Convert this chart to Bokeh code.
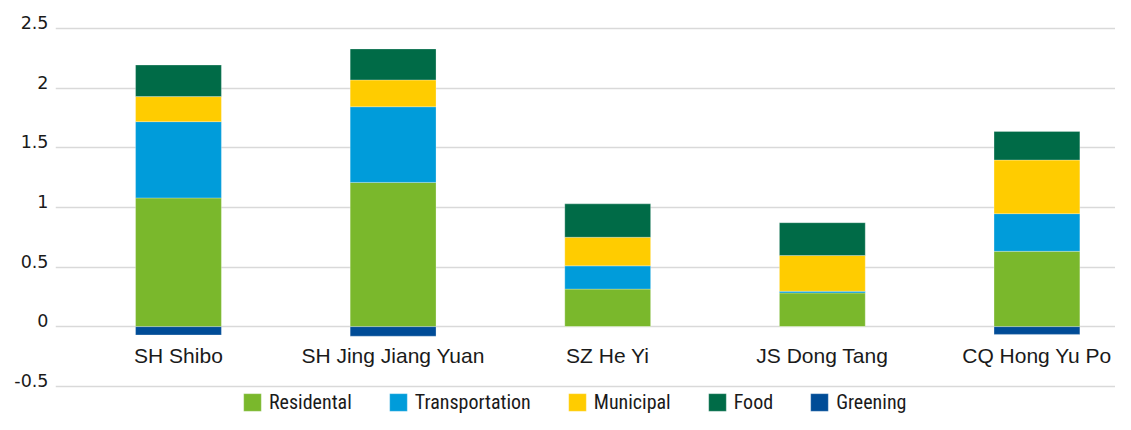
import numpy as np
from bokeh.plotting import figure
from bokeh.models import Range1d, FixedTicker, Legend, LegendItem
from bokeh.embed import file_html
from bokeh.resources import INLINE

# ---- data ----
categories = ["SH Shibo", "SH Jing Jiang Yuan", "SZ He Yi", "JS Dong Tang", "CQ Hong Yu Po"]
residential = [1.08, 1.21, 0.315, 0.283, 0.632]
transportation = [0.64, 0.635, 0.195, 0.014, 0.316]
municipal = [0.21, 0.225, 0.24, 0.30, 0.45]
food = [0.265, 0.26, 0.28, 0.275, 0.24]
greening = [-0.07, -0.08, 0.0, 0.0, -0.065]

series_names = ["Residental", "Transportation", "Municipal", "Food", "Greening"]
y_ticks = [-0.5, 0, 0.5, 1, 1.5, 2, 2.5]
y_tick_labels = ["-0.5", "0", "0.5", "1", "1.5", "2", "2.5"]

colors = ["#7AB82C", "#009CDA", "#FFCC00", "#006B47", "#004C97"]

xs = list(range(len(categories)))

# the frame runs to the bottom edge so the legend can sit below the -0.5 line
p = figure(width=1115, height=414, output_backend="svg", toolbar_location=None,
           x_range=Range1d(-0.573, 4.366), y_range=Range1d(-0.737, 2.56),
           min_border_left=55, min_border_right=0, min_border_top=21, min_border_bottom=0)
p.outline_line_color = None
p.background_fill_color = "white"
p.border_fill_color = "white"

p.xgrid.visible = False
p.ygrid.grid_line_color = "#d9d9d9"
p.ygrid.grid_line_width = 1.6
p.ygrid.ticker = FixedTicker(ticks=y_ticks)

# y axis: labels sit just above their gridlines (about 6 px higher)
label_lift = 0.05
lifted = [round(t + label_lift, 3) for t in y_ticks]
yax = p.yaxis[0]
yax.ticker = FixedTicker(ticks=lifted)
yax.major_label_overrides = {t: l for t, l in zip(lifted, y_tick_labels)}
yax.axis_line_color = None
yax.major_tick_line_color = None
yax.minor_tick_line_color = None
yax.major_tick_out = 0
yax.major_tick_in = 0
yax.minor_tick_out = 0
yax.major_label_standoff = 7
yax.major_label_text_font = "DejaVu Sans"
yax.major_label_text_font_size = "17.5px"
yax.major_label_text_color = "#1a1a1a"

# x axis, crossing at zero
xax = p.xaxis[0]
xax.fixed_location = 0
xax.ticker = FixedTicker(ticks=xs)
xax.major_label_overrides = {i: c for i, c in zip(xs, categories)}
xax.axis_line_color = None
xax.major_tick_line_color = None
xax.minor_tick_line_color = None
xax.major_tick_out = 0
xax.major_tick_in = 0
xax.minor_tick_out = 0
xax.major_label_standoff = 17
xax.major_label_text_font = "Liberation Sans"
xax.major_label_text_font_size = "21px"
xax.major_label_text_color = "#1a1a1a"

renderers = []
bottom = np.zeros(len(xs))
for vals, col in zip([residential, transportation, municipal, food], colors[:4]):
    top = bottom + np.array(vals)
    r = p.vbar(x=xs, bottom=bottom, top=top, width=0.4, fill_color=col,
               line_color="white", line_alpha=0.35, line_width=0.8)
    renderers.append(r)
    bottom = top
r = p.vbar(x=xs, bottom=0, top=greening, width=0.4, fill_color=colors[4],
           line_color="white", line_alpha=0.35, line_width=0.8)
renderers.append(r)

legend = Legend(items=[LegendItem(label=n, renderers=[rr]) for n, rr in zip(series_names, renderers)],
                location=(186, 0), orientation="horizontal",
                glyph_width=22, glyph_height=22, label_height=22, label_standoff=6, spacing=35,
                padding=0, margin=0, border_line_color=None, background_fill_alpha=0,
                label_text_font="'Roboto Condensed', 'Open Sans Condensed', 'Liberation Sans Narrow', 'Arial Narrow', 'Liberation Sans'",
                label_text_font_size="20px", label_text_color="#1a1a1a")
p.add_layout(legend)

open("out.html", "w").write(file_html(p, INLINE))
